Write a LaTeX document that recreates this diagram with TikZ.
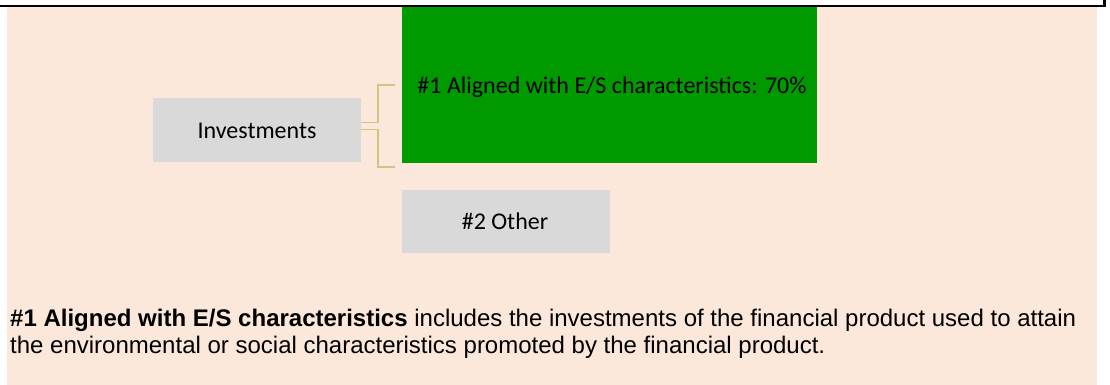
\documentclass[tikz,border=0pt]{standalone}
\usepackage{fontspec}
\setmainfont{Liberation Sans}
\newfontfamily\boxfont{Carlito}
\usetikzlibrary{calc}

\definecolor{peach}{RGB}{251,232,218}
\definecolor{boxgrey}{RGB}{217,217,217}
\definecolor{esgreen}{RGB}{0,153,0}
\definecolor{bracket}{RGB}{212,196,132}

\tikzset{
  greybox/.style={fill=boxgrey, draw=none, inner sep=0pt},
  greenbox/.style={fill=esgreen, draw=none, inner sep=0pt},
  boxlabel/.style={inner sep=0pt, font=\boxfont\fontsize{24}{26}\selectfont},
  brace/.style={draw=bracket, line width=1.6pt, line join=miter},
  desc/.style={anchor=base west, inner sep=0pt, font=\fontsize{24}{27}\selectfont}
}

\begin{document}
\begin{tikzpicture}[x=1pt, y=-1pt]
  \useasboundingbox (0,0) rectangle (1110,385);

  % panel background and the frame edge above it
  \fill[peach] (7,7) rectangle (1097,385);
  \draw[line width=2.5pt] (0,6) -- (1104.5,6) -- (1104.5,0);

  % boxes
  \node[greybox, minimum width=208pt, minimum height=64pt] (inv) at (257,130) {};
  \node[boxlabel] (invlabel) at (257,130.5) {Investments};
  \node[greenbox, minimum width=415pt, minimum height=156pt] (aligned) at (609.5,85) {};
  \node[boxlabel] (alignedlabel) at (612,87) {\#1 Aligned with E/S characteristics: 70\%};
  \node[greybox, minimum width=208pt, minimum height=63pt] (other) at (506,221.5) {};
  \node[boxlabel] (otherlabel) at (505,221.5) {\#2 Other};

  % bracket from Investments to the two categories
  \coordinate (topend) at (395,85);
  \coordinate (botend) at (395,167);
  \draw[brace] ([yshift=7.5pt]inv.east) -| ($(topend)+(-17,0)$) -- (topend);
  \draw[brace] ([yshift=0.5pt]inv.east) -| ($(botend)+(-17,0)$) -- (botend);

  % description
  \node[desc] (desc1) at (10,326) {\textbf{\#1 Aligned with E/S characteristics} includes the investments of the financial product used to attain};
  \node[desc] (desc2) at (10,353.5) {the environmental or social characteristics promoted by the financial product.};
\end{tikzpicture}
\end{document}
